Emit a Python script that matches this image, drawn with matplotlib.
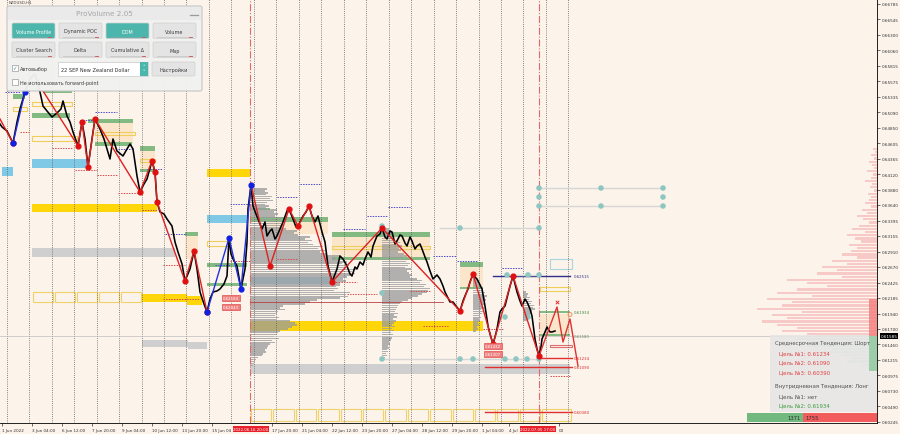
import numpy as np
import matplotlib.pyplot as plt
from matplotlib.patches import Rectangle, FancyBboxPatch
from matplotlib.transforms import blended_transform_factory as blend

plt.rcParams['font.family'] = ['DejaVu Sans']
BG = '#FCF3EB'

# ---- H1 price path, x = bar number ----
bar_x = [0, 2, 7, 13, 17, 20, 25, 30, 35, 40, 43, 47, 52, 57, 61, 63, 67, 70, 73, 78, 82, 85, 88, 92, 95,
         100, 104, 107, 110, 113, 117, 123, 127, 130, 133, 137, 140, 144, 147, 152, 155, 157, 160, 164, 167,
         172, 175, 178, 182, 185, 190, 194, 197, 200, 204, 207, 210, 213, 217, 220, 224, 227, 229, 231, 233,
         237, 241, 245, 247, 248, 251, 253, 256, 258, 262, 265, 267, 270, 272, 275, 277, 280, 283, 287, 289,
         293, 296, 298, 303, 306, 309, 312, 315, 318, 322, 325, 328, 332, 335, 337, 340, 343, 347, 350, 352,
         355, 357, 360, 363, 365, 368, 371, 373, 377, 380, 382, 385, 387, 390, 392, 395, 397, 400, 402, 405,
         407, 410, 412, 415, 417, 420, 422, 425, 427, 430, 433, 437, 440, 443, 445, 447, 450, 453, 456, 460,
         463, 465, 468, 470, 473, 475, 477, 480, 482, 485, 488, 490, 493, 495, 497, 500, 502, 505, 508, 510,
         513, 515, 517, 520, 522, 525, 527, 530, 532, 535, 537, 539, 541, 542, 545, 547, 548, 550, 552, 555]
bar_p = [0.64907, 0.64860, 0.64797, 0.64609, 0.64938, 0.65142, 0.65408, 0.65611, 0.65689, 0.65408, 0.65188,
         0.65110, 0.65016, 0.65079, 0.65142, 0.65267, 0.65032, 0.64938, 0.64782, 0.64562, 0.64938, 0.64672,
         0.64234, 0.64672, 0.64985, 0.64829, 0.64672, 0.64516, 0.64359, 0.64672, 0.64484, 0.64406, 0.64516,
         0.64594, 0.64516, 0.64093, 0.63843, 0.63968, 0.64046, 0.64328, 0.64156, 0.63686, 0.63530, 0.63498,
         0.63420, 0.63310, 0.63060, 0.62904, 0.62716, 0.62450, 0.62638, 0.62919, 0.62638, 0.62278, 0.62090,
         0.61965, 0.62168, 0.62278, 0.62293, 0.62325, 0.62403, 0.62528, 0.63123, 0.62872, 0.62794, 0.62684,
         0.62325, 0.62638, 0.63060, 0.63577, 0.63952, 0.63623, 0.63498, 0.63420, 0.63264, 0.63373, 0.63154,
         0.63232, 0.63264, 0.63107, 0.63154, 0.63264, 0.63373, 0.63545, 0.63577, 0.63420, 0.63295, 0.63310,
         0.63467, 0.63530, 0.63623, 0.63467, 0.63373, 0.63467, 0.63217, 0.63060, 0.62684, 0.62434, 0.62559,
         0.62638, 0.62841, 0.62794, 0.62684, 0.62559, 0.62528, 0.62669, 0.62638, 0.62747, 0.62700, 0.62794,
         0.62904, 0.62825, 0.62997, 0.63154, 0.63185, 0.63279, 0.63138, 0.63107, 0.63232, 0.63217, 0.63029,
         0.63076, 0.63170, 0.63154, 0.63044, 0.62997, 0.63138, 0.63076, 0.62951, 0.62997, 0.63029, 0.62951,
         0.62825, 0.62747, 0.62606, 0.62481, 0.62544, 0.62481, 0.62371, 0.62278, 0.62215, 0.62121, 0.62121,
         0.62058, 0.61980, 0.62137, 0.62215, 0.62325, 0.62434, 0.62559, 0.62512, 0.62481, 0.62387, 0.62325,
         0.62058, 0.61745, 0.61620, 0.61464, 0.61573, 0.61699, 0.61965, 0.62012, 0.62058, 0.62246, 0.62371,
         0.62528, 0.62403, 0.62278, 0.62137, 0.62058, 0.62168, 0.62121, 0.62012, 0.61902, 0.61542, 0.61386,
         0.61276, 0.61417, 0.61542, 0.61652, 0.61730, 0.61699, 0.61652, 0.61652, 0.61667]
last_price = 0.61585

# zigzag pivots
red_zz = [([0, 13], [0.64985, 0.64609]),
          ([43, 78, 82, 88, 95, 140, 152, 155, 157, 185, 194, 207],
           [0.65423, 0.64562, 0.64938, 0.64234, 0.64985, 0.63843, 0.64328, 0.64156, 0.63686, 0.62450, 0.62919, 0.61965]),
          ([251, 270, 289, 298, 309, 332, 382, 460, 473, 493, 513, 539],
           [0.63952, 0.62684, 0.63577, 0.63310, 0.63623, 0.62434, 0.63279, 0.61980, 0.62559, 0.61464, 0.62528, 0.61276])]
blue_zz = [([13, 25], [0.64609, 0.65408]),
           ([207, 229, 241, 251], [0.61965, 0.63123, 0.62325, 0.63952])]
fc_x = [539, 557, 563, 570, 578]
fc_p = [0.61276, 0.62043, 0.61495, 0.61855, 0.61120]

# zones: (x0, x1, top, bottom)
gold_zones = [(32, 157, 0.63655, 0.63530), (207, 250, 0.64203, 0.64077), (142, 187, 0.62246, 0.62121),
              (187, 202, 0.62215, 0.62074), (250, 483, 0.61824, 0.61667)]
blue_zones = [(2, 13, 0.64234, 0.64093), (32, 87, 0.64359, 0.64218), (207, 247, 0.63483, 0.63357)]
poc_zone = (250, 330, 0.62512, 0.62403)
gray_zones = [(32, 175, 0.62966, 0.62825), (142, 188, 0.61526, 0.61417), (188, 207, 0.61495, 0.61386),
              (250, 570, 0.61151, 0.60994)]
green_zones = [(13, 25, 0.65376, 0.65298), (43, 72, 0.65423, 0.65392), (32, 70, 0.65079, 0.65001),
               (88, 133, 0.64985, 0.64922), (95, 132, 0.64625, 0.64562), (140, 155, 0.64562, 0.64484),
               (140, 155, 0.64203, 0.64156), (185, 198, 0.63217, 0.63154), (207, 247, 0.62731, 0.62669),
               (207, 247, 0.62418, 0.62371), (250, 270, 0.63592, 0.63561), (250, 328, 0.63451, 0.63373),
               (332, 430, 0.63217, 0.63138), (332, 430, 0.62825, 0.62778), (460, 483, 0.62747, 0.62669),
               (460, 483, 0.62356, 0.62325), (540, 570, 0.61980, 0.61949), (540, 570, 0.61620, 0.61589)]
tan_zones = [(95, 133, 0.64954, 0.64594), (140, 155, 0.64547, 0.64171), (185, 198, 0.63154, 0.62794),
             (267, 328, 0.63373, 0.63185), (332, 430, 0.63138, 0.62825), (460, 483, 0.62669, 0.62356),
             (540, 570, 0.61933, 0.61620)]
yellow_boxes = [(32, 72, 0.65251, 0.65188), (13, 27, 0.65173, 0.65110), (32, 77, 0.64719, 0.64641),
                (95, 135, 0.64782, 0.64735), (140, 155, 0.64359, 0.64312), (207, 230, 0.63076, 0.62997),
                (540, 570, 0.62356, 0.62293), (332, 430, 0.62997, 0.62951)]
row1_edges = [32, 54, 76, 98, 120, 142]
row1_band = (0.62278, 0.62121)
row2_edges = [250, 272, 295, 317, 340, 362, 384, 407, 429, 452, 474, 496, 519, 541, 572]
row2_band = (0.60447, 0.60259)

red_levels = [(485, 572, 0.61104), (485, 572, 0.60400), (540, 572, 0.61245)]
level_tags = [("0.62515", 0.62528, '#30308A'), ("0.61934", 0.61965, '#3A8A3A'), ("0.61580", 0.61589, '#6A8A6A'),
              ("0.61234", 0.61245, '#D83030'), ("0.61090", 0.61104, '#D83030'), ("0.60380", 0.60400, '#D83030')]
blue_dots_lines = [(5, 20, 0.65408), (80, 93, 0.64969), (95, 117, 0.65095), (118, 132, 0.64516), (147, 162, 0.64203),
                   (165, 185, 0.63185), (215, 230, 0.62700), (300, 320, 0.63968), (277, 297, 0.63764),
                   (367, 387, 0.63467), (388, 410, 0.63608), (343, 365, 0.63264), (433, 456, 0.62841),
                   (457, 478, 0.62763), (502, 523, 0.62653), (230, 250, 0.63655)]
red_dots_lines = [(20, 30, 0.64782), (52, 73, 0.64531), (75, 97, 0.64187), (97, 117, 0.64109), (118, 140, 0.63827),
                  (142, 157, 0.63561), (163, 185, 0.62700), (163, 200, 0.62168), (277, 297, 0.62794),
                  (333, 357, 0.62434), (347, 377, 0.62246), (410, 430, 0.62293), (423, 448, 0.61745),
                  (483, 503, 0.61699), (550, 570, 0.60963), (230, 250, 0.62763)]
grey_links = [(539, 663, 0.63905), (539, 663, 0.63623), (440, 539, 0.63279), (382, 539, 0.61229), (505, 539, 0.62544)]
cyan_x = [539, 601, 663, 539, 663, 539, 601, 663, 460, 539, 382, 382, 382, 460, 473, 505, 516, 527, 539,
          507, 528, 539, 505, 528]
cyan_p = [0.63905, 0.63905, 0.63905, 0.63764, 0.63764, 0.63623, 0.63623, 0.63623, 0.63279, 0.63279, 0.63310,
          0.62262, 0.61229, 0.61229, 0.61229, 0.61229, 0.61229, 0.61229, 0.61229, 0.62544, 0.62544, 0.62544,
          0.61886, 0.61886]
price_tags = [(223, 0.62184, "0.62184"), (223, 0.62043, "0.62043"), (485, 0.61432, "0.61432"), (485, 0.61307, "0.61307")]

# volume profiles (volume per 0.0003 level, from the top level down)
vp1_x, vp1_top = 250, 0.63890
vp1_vol = [17, 15, 18, 16, 22, 20, 23, 17, 15, 19, 16, 27, 24, 28, 25, 33, 30, 35, 31, 34, 32, 36, 47, 44, 48,
           60, 55, 62, 58, 63, 73, 68, 75, 70, 77, 90, 85, 88, 97, 92, 99, 95, 107, 102, 105, 100, 97, 93, 96, 90,
           90, 86, 88, 84, 100, 96, 98, 90, 67, 60, 55, 33, 30, 35, 28, 27, 25, 29, 26, 40, 45, 47, 42, 38, 30, 28,
           27, 24, 29, 22, 25, 20, 18, 17, 15, 16, 13, 12, 8, 6, 5, 4, 3]
vp2_x, vp2_top = 382, 0.63264
vp2_vol = [7, 9, 12, 10, 14, 11, 15, 18, 14, 20, 17, 19, 16, 22, 25, 21, 27, 24, 28, 26, 23, 29, 25, 27, 30, 28,
           35, 40, 38, 44, 42, 48, 46, 45, 40, 36, 30, 26, 20, 18, 16, 15, 14, 13, 16, 12, 15, 11, 14, 12, 10,
           13, 10, 12, 9, 11, 8, 10, 9, 7, 8, 6, 7, 5, 6, 4, 5, 3, 4]
vp3_x, vp3_top = 473, 0.62481
vp3_vol = [4, 6, 5, 8, 7, 10, 9, 12, 11, 14, 12, 13, 10, 12, 9, 11, 8, 10, 9, 7, 8, 6, 7, 5, 6, 4, 5, 3]
vp4_x, vp4_top = 523, 0.62278
vp4_vol = [3, 5, 4, 7, 6, 9, 8, 11, 10, 12, 9, 8, 7, 6, 5, 4]
vp_step = 0.0003

# market-depth profile on the right edge
dom_step = 0.0005
dom_top = 0.64516
dom_ask = [4, 2, 6, 3, 8, 5, 3, 10, 4, 6, 12, 5, 7, 3, 9, 6, 8, 12, 6, 15, 10, 20, 14, 8, 18, 25, 12, 30, 22, 16,
           28, 20, 26, 35, 20, 45, 30, 55, 40, 60, 35, 90, 70, 50, 80, 100, 65, 110, 85, 95, 120, 75, 105, 90, 115,
           100, 80, 95, 70]
dom_bid_top = 0.61589
dom_bid = [60, 80, 50, 70, 45, 55, 35, 25, 30, 15, 10]

day_x = [7, 29, 52, 74, 97, 119, 142, 164, 186, 209, 231, 254, 276, 299, 321, 344, 366, 389, 411, 434, 456,
         479, 501, 523, 546, 568]
session_x = [250, 539]
tick_x = [2, 32, 62, 92, 122, 152, 182, 212, 272, 302, 332, 362, 392, 422, 452, 482, 509, 559]
tick_lbl = ["1 Jun 2022", "3 Jun 04:00", "6 Jun 12:00", "7 Jun 20:00", "9 Jun 04:00", "10 Jun 12:00",
            "13 Jun 20:00", "15 Jun 04", "17 Jun 20:00", "21 Jun 04:00", "22 Jun 12:00",
            "23 Jun 20:00", "27 Jun 04:00", "28 Jun 12:00", "29 Jun 20:00", "1 Jul 04:00", "4 Jul",
            "00"]
session_lbl = ["2022.06.16 20:00", "2022.07.05 17:00"]
price_ticks = [0.66785, 0.66545, 0.66300, 0.66060, 0.65815, 0.65575, 0.65335, 0.65090, 0.64850, 0.64605,
               0.64365, 0.64120, 0.63880, 0.63640, 0.63395, 0.63155, 0.62910, 0.62670, 0.62425, 0.62185,
               0.61940, 0.61700, 0.61460, 0.61215, 0.60975, 0.60730, 0.60490, 0.60245]

fig = plt.figure(figsize=(9, 4.35), dpi=100, facecolor=BG)
ax = fig.add_axes([0, 11 / 435, 877 / 900, 424 / 435])
ax.set_facecolor(BG)
ax.set_xlim(0, 877)
ax.set_ylim(0.60227, 0.66863)


def zone(z, **kw):
    x0, x1, top, bot = z
    ax.add_patch(Rectangle((x0, bot), x1 - x0, top - bot, **kw))


for z in tan_zones:
    zone(z, fc='#FBE3C4', ec='none', alpha=0.8, zorder=0.8)
for z in gold_zones:
    zone(z, fc='#FFD60A', ec='none', zorder=1)
for z in blue_zones:
    zone(z, fc='#7FC8E6', ec='none', zorder=1)
zone(poc_zone, fc='#9ED3EA', ec='none', zorder=1)
for z in gray_zones:
    zone(z, fc='#CFCFCF', ec='none', zorder=1)
for z in green_zones:
    zone(z, fc='#82BA82', ec='none', zorder=1.2)
for z in yellow_boxes:
    zone(z, fc='none', ec='#EFCF5A', lw=0.8, zorder=1.2)
for edges, band in [(row1_edges, row1_band), (row2_edges, row2_band)]:
    for a, b in zip(edges[:-1], edges[1:]):
        zone((a + 1, b - 1, band[0], band[1]), fc='none', ec='#EFD36A', lw=0.8, zorder=1.2)
zone((550, 572, 0.62794, 0.62638), fc='none', ec='#A9D4E0', lw=0.8, zorder=1.2)
zone((550, 572, 0.61448, 0.61417), fc='none', ec='#E07070', lw=0.8, zorder=1.2)

# volume profiles
for x0, top, vol in [(vp1_x, vp1_top, vp1_vol), (vp2_x, vp2_top, vp2_vol), (vp3_x, vp3_top, vp3_vol),
                     (vp4_x, vp4_top, vp4_vol)]:
    lv = top - vp_step * np.arange(len(vol))
    ax.barh(lv, vol, left=x0, height=vp_step * 0.8, color='#9A9A9A', alpha=0.75, lw=0, zorder=2)

# day separators and session lines
ax.vlines(day_x, 0.60227, 0.66863, colors='#5E5E5E', linestyles=(0, (1, 1.6)), lw=0.6, zorder=2.5)
ax.vlines(session_x, 0.60227, 0.66863, colors='#E06A6A', linestyles='dashdot', lw=0.8, zorder=2.5)
ax.axhline(last_price, color='#BDBDBD', lw=0.5, zorder=2.5)

for x0, x1, p in blue_dots_lines:
    ax.plot([x0, x1], [p, p], color='#4A4ACF', lw=0.7, ls=(0, (1.5, 1.2)), zorder=3)
for x0, x1, p in red_dots_lines:
    ax.plot([x0, x1], [p, p], color='#D84A4A', lw=0.7, ls=(0, (1.5, 1.2)), zorder=3)
for x0, x1, p in red_levels:
    ax.plot([x0, x1], [p, p], color='#E03030', lw=1.0, zorder=3)
ax.plot([250, 443], [0.62121, 0.62121], color='#B84040', lw=0.6, zorder=3)
ax.plot([493, 570], [0.62528, 0.62528], color='#30308A', lw=1.0, zorder=3)
for txt, p, c in level_tags:
    ax.text(574, p, txt, fontsize=2.8, color=c, va='center', ha='left', zorder=4)
for x0, x1, p in grey_links:
    ax.plot([x0, x1], [p, p], color='#D6D6D6', lw=1.0, zorder=3)
ax.scatter(cyan_x, cyan_p, s=16, color='#8EC7C1', edgecolors='none', zorder=4)

# price
ax.plot(bar_x, bar_p, color='black', lw=1.15, zorder=5)

# zigzags
for xs, ps in red_zz:
    ax.plot(xs, ps, color='#E02020', lw=1.0, zorder=6)
    ax.scatter(xs[1:], ps[1:], s=12, color='#E01010', zorder=7)
for xs, ps in blue_zz:
    ax.plot(xs, ps, color='#2030E0', lw=1.0, zorder=6)
    ax.scatter(xs, ps, s=12, color='#1020E0', zorder=7)
ax.plot(fc_x, fc_p, color='#E03030', lw=1.0, zorder=6)
ax.scatter([fc_x[1]], [fc_p[1] + 0.0008], marker='x', s=6, color='#E03030', lw=0.7, zorder=7)
ax.scatter([fc_x[3]], [fc_p[3] + 0.0007], marker='o', s=8, facecolors='none', edgecolors='#F09060', lw=0.7, zorder=7)

for x0, p, txt in price_tags:
    ax.text(x0, p, txt, fontsize=2.8, color='white', va='center', ha='left', zorder=8,
            bbox=dict(boxstyle='square,pad=0.25', fc='#EE8080', ec='#E05050', lw=0.5))

# right-edge depth profile
lv = dom_top - dom_step * np.arange(len(dom_ask))
ax.barh(lv, dom_ask, left=877 - np.array(dom_ask), height=dom_step * 0.7, color='#F6B0B0', alpha=0.6, lw=0, zorder=3)
lvb = dom_bid_top - dom_step * np.arange(len(dom_bid))
ax.barh(lvb, dom_bid, left=877 - np.array(dom_bid), height=dom_step * 0.7, color='#A8D4AE', alpha=0.6, lw=0, zorder=3)

# axes
for s in ['top', 'left']:
    ax.spines[s].set_visible(False)
for s in ['right', 'bottom']:
    ax.spines[s].set_linewidth(0.6)
ax.yaxis.tick_right()
ax.set_yticks(price_ticks)
ax.set_yticklabels([f"{v:.5f}" for v in price_ticks])
ax.tick_params(axis='y', length=2, width=0.5, labelsize=3.0, pad=1.2, colors='#333333')
ax.set_xticks(tick_x)
ax.set_xticklabels(tick_lbl)
ax.tick_params(axis='x', length=2, width=0.5, labelsize=3.0, pad=1.5, colors='#333333')
for lbl in ax.get_xticklabels():
    lbl.set_ha('left')
tr = blend(ax.transData, ax.transAxes)
for x0, txt in zip([251, 538], session_lbl):
    ax.text(x0, -0.009, txt, transform=tr, fontsize=2.9, color='white', ha='center', va='top', zorder=10,
            clip_on=False, bbox=dict(boxstyle='square,pad=0.2', fc='#E8202A', ec='none'))
ax.text(1.004, last_price, f"{last_price:.5f}", transform=blend(ax.transAxes, ax.transData), fontsize=3.0,
        color='white', ha='left', va='center', zorder=10, clip_on=False,
        bbox=dict(boxstyle='square,pad=0.2', fc='black', ec='none'))

# ---- overlay widgets (pixel coordinates) ----
ov = fig.add_axes([0, 0, 1, 1])
ov.set_xlim(0, 900)
ov.set_ylim(435, 0)
ov.axis('off')
ov.patch.set_alpha(0)

ov.text(9, 3.5, "NZDUSD,H1", fontsize=2.8, color='#404040', va='center')
ov.add_patch(FancyBboxPatch((7, 7), 195, 85, boxstyle='round,pad=0,rounding_size=2', fc='#F1F1F1',
                            ec='#C4C4C4', lw=0.8, alpha=0.97))
ov.add_patch(Rectangle((8, 8), 193, 13, fc='#EAEAEA', ec='none'))
ov.text(104, 14.5, "ProVolume 2.05", fontsize=5.2, color='#A6A6A6', ha='center', va='center')
ov.plot([190, 198], [16, 16], color='#9A9A9A', lw=0.9)

btn_names = [["Volume Profile", "Dynamic POC", "DOM", "Volume"],
             ["Cluster Search", "Delta", "Cumulative Δ", "Map"]]
btn_on = [[True, False, True, False], [False, False, False, False]]
btn_x = [12, 59, 106, 153]
btn_y = [24, 43]
for r in range(2):
    for c in range(4):
        on = btn_on[r][c]
        ov.add_patch(FancyBboxPatch((btn_x[c], btn_y[r]), 43, 15.5, boxstyle='round,pad=0,rounding_size=1.5',
                                    fc='#4DB6AC' if on else '#E4E4E4', ec='#CFCFCF', lw=0.5))
        ov.text(btn_x[c] + 21.5, btn_y[r] + 8, btn_names[r][c], fontsize=3.5, ha='center', va='center',
                color='white' if on else '#3A3A3A')
        ov.plot([btn_x[c] + 4, btn_x[c] + 39], [btn_y[r] + 13.5] * 2, color='#7AA' if on else '#C8C8C8', lw=0.6)
        ov.plot([btn_x[c] + 36, btn_x[c] + 39], [btn_y[r] + 13.5] * 2, color='#D05050', lw=0.6)

ov.add_patch(Rectangle((12, 66), 5.5, 5.5, fc='white', ec='#9A9A9A', lw=0.5))
ov.text(14.7, 68.5, "✓", fontsize=4, color='#2E9E90', ha='center', va='center')
ov.text(20, 69.5, "Автовыбор", fontsize=3.5, color='#3A3A3A', va='center')
ov.add_patch(Rectangle((58, 63), 90, 14, fc='white', ec='#C8C8C8', lw=0.5))
ov.add_patch(Rectangle((140, 63), 8, 14, fc='#4DB6AC', ec='none'))
ov.text(144, 67.5, "˄", fontsize=3.5, color='white', ha='center', va='center')
ov.text(144, 72.5, "˅", fontsize=3.5, color='white', ha='center', va='center')
ov.text(61, 70, "22 SEP New Zealand Dollar", fontsize=3.6, color='#303030', va='center')
ov.add_patch(FancyBboxPatch((152, 63), 43, 14, boxstyle='round,pad=0,rounding_size=1.5', fc='#E4E4E4',
                            ec='#CFCFCF', lw=0.5))
ov.text(173.5, 70, "Настройки", fontsize=3.6, color='#3A3A3A', ha='center', va='center')
ov.add_patch(Rectangle((12, 80), 5.5, 5.5, fc='white', ec='#9A9A9A', lw=0.5))
ov.text(20, 83, "Не использовать forward-point", fontsize=3.5, color='#3A3A3A', va='center')

# info box
ov.add_patch(Rectangle((770, 336), 107, 77, fc='#E6E6E6', ec='none', alpha=0.9))
info = [(775, 344, "Среднесрочная Тенденция: Шорт", '#505050'),
        (779, 353.5, "Цель №1: 0.61234", '#E04040'),
        (779, 363, "Цель №2: 0.61090", '#E04040'),
        (779, 372.5, "Цель №3: 0.60390", '#E04040'),
        (775, 387, "Внутридневная Тенденция: Лонг", '#505050'),
        (779, 396.5, "Цель №1: нет", '#505050'),
        (779, 405.5, "Цель №2: 0.61934", '#3C9A3C')]
for x0, y0, txt, c in info:
    ov.text(x0, y0, txt, fontsize=3.9, color=c, va='center')
# strong edge of depth profile
ov.add_patch(Rectangle((869, 300), 8, 37, fc='#F27D7D', ec='none', alpha=0.8))
ov.add_patch(Rectangle((869, 337), 8, 35, fc='#8CC79A', ec='none', alpha=0.8))

ov.add_patch(Rectangle((747, 414), 56, 9, fc='#72B97F', ec='none'))
ov.add_patch(Rectangle((803, 414), 74, 9, fc='#F25C5C', ec='none'))
ov.text(801, 418.7, "1371", fontsize=3.8, color='#303030', ha='right', va='center')
ov.text(805, 418.7, "1755", fontsize=3.8, color='#303030', ha='left', va='center')

fig.savefig("out.png", dpi=100, facecolor=BG)
